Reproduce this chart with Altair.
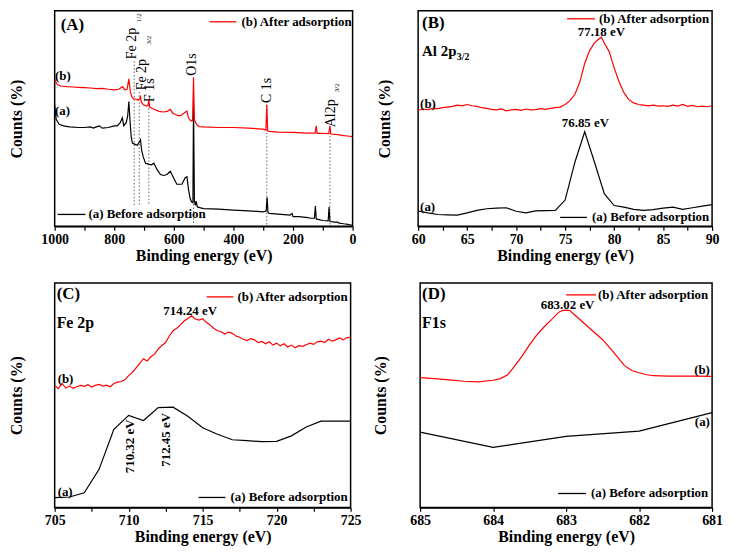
import altair as alt
import pandas as pd

FONT = "Liberation Serif"
RED = "#ff0000"
BLACK = "#000000"

# ---------------- Panel A : survey spectra ----------------
A_ev_a = [1000, 995, 985, 970, 950, 920, 900, 880, 870, 860, 850, 840, 820, 800, 790, 780, 773, 768,
          760, 755, 751, 747, 743, 739, 730, 723, 716, 712, 708, 703, 695, 685, 675, 667, 656, 645,
          634, 623, 612, 601, 590, 573, 562, 556, 551, 545, 540, 536, 534, 531, 528, 525, 521, 510,
          500, 450, 400, 350, 300, 290, 287, 284, 280, 250, 210, 203, 200, 180, 150, 140, 128, 125,
          122, 100, 82, 79, 76, 60, 50, 45, 30, 20, 10, 0]
A_cnt_a = [400, 355, 340, 335, 332, 330, 330, 332, 328, 332, 335, 328, 330, 335, 335, 345, 360, 335,
           345, 365, 410, 350, 300, 282, 278, 275, 285, 292, 260, 240, 220, 217, 215, 220, 200, 185,
           182, 185, 195, 175, 155, 155, 175, 178, 140, 110, 100, 98, 410, 105, 90, 102, 85, 82,
           80, 78, 75, 73, 70, 72, 115, 68, 65, 63, 60, 65, 55, 55, 52, 50, 50, 88,
           48, 43, 42, 85, 40, 38, 38, 35, 33, 32, 30, 28]
A_ev_b = [1000, 995, 990, 980, 960, 940, 920, 900, 880, 860, 840, 820, 800, 785, 772, 765, 757, 751,
          746, 741, 735, 728, 720, 715, 712, 709, 702, 692, 687, 684, 681, 670, 650, 635, 622, 612,
          604, 595, 585, 575, 565, 556, 551, 545, 540, 537, 534, 531, 527, 522, 515, 500, 450, 400,
          350, 300, 291, 288, 285, 280, 250, 200, 150, 126, 122, 119, 100, 80, 76, 73, 50, 30, 10, 0]
A_cnt_b = [480, 468, 462, 458, 456, 455, 454, 453, 452, 450, 451, 448, 446, 448, 456, 446, 448, 480,
           440, 425, 418, 418, 414, 418, 425, 408, 400, 396, 398, 415, 393, 388, 380, 378, 380, 386,
           375, 370, 366, 368, 375, 381, 360, 352, 350, 352, 485, 355, 345, 338, 333, 332, 330, 330,
           328, 325, 322, 400, 320, 318, 316, 315, 313, 313, 335, 312, 312, 311, 335, 310, 308, 305, 303, 302]
A_peak_names = ["Fe 2p", "Fe 2p", "F 1s", "O1s", "C 1s", "Al2p"]
A_peak_name_ev = [739, 706, 680, 540, 288, 74]
A_peak_name_cnt = [541, 445, 409, 490, 406, 331]
A_sub_names = ["1/2", "3/2", "3/2"]
A_sub_ev = [716, 683, 52]
A_sub_cnt = [655, 586, 439]
A_guide_ev = [733, 716, 684, 534, 288, 76]
A_guide_top = [535, 440, 400, 480, 400, 325]
A_guide_bottom = [90, 90, 90, 25, 25, 25]

# ---------------- Panel B : Al 2p ----------------
B_ev_a = [60, 61, 62, 63, 64, 65, 66, 67, 68, 69, 70, 71, 72, 73, 74, 75, 76, 77, 78, 79, 80,
          81, 82, 83, 84, 85, 86, 87, 88, 89, 90]
B_cnt_a = [68, 62, 57, 56, 55, 62, 70, 75, 77, 78, 67, 62, 68, 69, 70, 102, 220, 315, 220, 122, 85,
           80, 73, 70, 72, 77, 80, 73, 78, 83, 88]
B_ev_b = [60, 60.5, 61, 61.5, 62, 62.5, 63, 63.5, 64, 64.5, 65, 65.5, 66, 66.5, 67, 67.5, 68, 68.5,
          69, 69.5, 70, 70.5, 71, 71.5, 72, 72.5, 73, 73.5, 74, 74.5, 75, 75.5, 76, 76.5, 77, 77.5,
          78, 78.5, 78.7, 79, 79.5, 80, 80.5, 81, 81.5, 82, 82.5, 83, 83.5, 84, 84.5, 85, 85.5, 86,
          86.5, 87, 87.5, 88, 88.5, 89, 89.5, 90]
B_cnt_b = [382, 386, 384, 388, 387, 390, 392, 394, 398, 396, 400, 396, 394, 390, 388, 385, 383, 386,
           380, 383, 385, 382, 386, 383, 384, 387, 385, 388, 390, 392, 400, 412, 432, 470, 528, 568,
           592, 606, 610, 592, 565, 515, 472, 437, 415, 405, 400, 398, 396, 398, 395, 396, 394, 398,
           395, 400, 394, 397, 393, 395, 393, 396]

# ---------------- Panel C : Fe 2p ----------------
C_ev_a = [705, 706, 707, 708, 709, 710, 711, 712, 713, 714, 715, 716, 717, 718, 719, 720, 721, 722,
          723, 724, 725]
C_cnt_a = [35, 37, 50, 122, 245, 288, 272, 312, 313, 285, 250, 230, 213, 210, 207, 208, 225, 252,
           270, 270, 270]
C_ev_b = [705.0, 705.25, 705.5, 705.75, 706.0, 706.25, 706.5, 706.75, 707.0, 707.25, 707.5, 707.75,
          708.0, 708.25, 708.5, 708.75, 709.0, 709.25, 709.5, 709.75, 710.0, 710.25, 710.5, 710.75,
          711.0, 711.25, 711.5, 711.75, 712.0, 712.25, 712.5, 712.75, 713.0, 713.25, 713.5, 713.75,
          714.0, 714.25, 714.5, 714.75, 715.0, 715.25, 715.5, 715.75, 716.0, 716.25, 716.5, 716.75,
          717.0, 717.25, 717.5, 717.75, 718.0, 718.25, 718.5, 718.75, 719.0, 719.25, 719.5, 719.75,
          720.0, 720.25, 720.5, 720.75, 721.0, 721.25, 721.5, 721.75, 722.0, 722.25, 722.5, 722.75,
          723.0, 723.25, 723.5, 723.75, 724.0, 724.25, 724.5, 724.75, 725.0]
C_cnt_b = [380, 370, 386, 372, 378, 371, 376, 380, 377, 382, 375, 380,
           383, 378, 381, 376, 386, 390, 392, 398, 410, 420, 434, 448,
           462, 455, 468, 476, 492, 503, 512, 532, 548, 556, 566, 578,
           586, 594, 584, 581, 585, 574, 566, 556, 548, 545, 538, 544,
           540, 532, 528, 522, 518, 524, 520, 512, 515, 508, 514, 504,
           510, 502, 508, 498, 504, 496, 502, 500, 505, 510, 506, 514,
           516, 512, 522, 516, 520, 526, 520, 527, 528]

# ---------------- Panel D : F 1s ----------------
D_ev_a = [685, 684, 683, 682, 681]
D_cnt_a = [235, 188, 222, 238, 295]
D_ev_b = [685, 684.8, 684.6, 684.4, 684.2, 684, 683.9, 683.8, 683.7, 683.6, 683.5, 683.4, 683.3,
          683.2, 683.1, 683.05, 683, 682.95, 682.9, 682.8, 682.7, 682.6, 682.5, 682.4, 682.3, 682.2,
          682.1, 682, 681.9, 681.8, 681.6, 681.4, 681.2, 681]
D_cnt_b = [403, 400, 396, 392, 390, 395, 400, 412, 440, 470, 505, 535, 560,
           582, 605, 610, 611, 610, 600, 580, 560, 540, 520, 495, 468, 440,
           425, 418, 412, 409, 408, 408, 408, 407]

LEG_B = "(b) After adsorption"
LEG_A = "(a) Before adsorption"


def x_enc(domain, values, major, fmt="d"):
    expr = f"abs(datum.value/{major} - round(datum.value/{major})) < 0.001 ? datum.label : ''"
    return alt.X("ev:Q",
                 scale=alt.Scale(domain=domain, nice=False, zero=False),
                 axis=alt.Axis(title="Binding energy (eV)", values=values, labelExpr=expr,
                               format=fmt, grid=False, labelFlush=False, labelOverlap=False,
                               labelPadding=2, titlePadding=1))


def y_enc(domain, tpad):
    return alt.Y("counts:Q",
                 scale=alt.Scale(domain=domain, nice=False, zero=False),
                 axis=alt.Axis(title="Counts (%)", labels=False, ticks=False, domain=False,
                               grid=False, titlePadding=tpad))


def series(ev, cnt, color, xe, ye):
    df = pd.DataFrame({"ev": ev, "counts": cnt})
    return alt.Chart(df).mark_line(color=color, strokeWidth=1.2, clip=True).encode(x=xe, y=ye)


def texts(ev, cnt, labels, xe, ye, **kw):
    df = pd.DataFrame({"ev": ev, "counts": cnt, "label": labels})
    return alt.Chart(df).mark_text(font=FONT, color=BLACK, **kw).encode(x=xe, y=ye, text="label:N")


ONE = pd.DataFrame({"k": [0]})


def fixed_text(txt, x, y, size, align="left", weight="bold"):
    return alt.Chart(ONE).mark_text(font=FONT, fontSize=size, fontWeight=weight, align=align,
                                    baseline="middle", color=BLACK).encode(
        x=alt.value(x), y=alt.value(y), text=alt.value(txt))


def leg_line(x1, x2, y, color):
    return alt.Chart(ONE).mark_rule(color=color, strokeWidth=1.3).encode(
        x=alt.value(x1), x2=alt.value(x2), y=alt.value(y))


# ---------------- build panels ----------------
H1 = 217
WA = 300
xa = x_enc([1000, 0], list(range(0, 1001, 100)), 200)
ya = y_enc([25, 690], 30)
guides = alt.Chart(pd.DataFrame({"ev": A_guide_ev, "counts": A_guide_top, "c2": A_guide_bottom})) \
    .mark_rule(color="#666666", strokeWidth=1, strokeDash=[1.5, 2]).encode(x=xa, y=ya, y2="c2:Q")
panelA = alt.layer(
    guides,
    series(A_ev_a, A_cnt_a, BLACK, xa, ya),
    series(A_ev_b, A_cnt_b, RED, xa, ya),
    texts(A_peak_name_ev, A_peak_name_cnt, A_peak_names, xa, ya, angle=270, align="left",
          baseline="middle", fontSize=14),
    texts(A_sub_ev, A_sub_cnt, A_sub_names, xa, ya, angle=270, align="left",
          baseline="middle", fontSize=7),
    texts([999, 999], [490, 382], ["(b)", "(a)"], xa, ya, align="left", baseline="middle",
          fontSize=13, fontWeight="bold"),
    fixed_text("(A)", 6, 14, 17),
    leg_line(WA - 144, WA - 117, 11, RED),
    fixed_text(LEG_B, WA - 1, 11, 13, align="right"),
    leg_line(3, 31, H1 - 12, BLACK),
    fixed_text(LEG_A, 34, H1 - 12, 13),
).properties(width=WA, height=H1)

WB = 296
xb = x_enc([60, 90], [60 + 2.5 * i for i in range(13)], 5)
yb = y_enc([20, 692], 26)
panelB = alt.layer(
    series(B_ev_a, B_cnt_a, BLACK, xb, yb),
    series(B_ev_b, B_cnt_b, RED, xb, yb),
    texts([78.7, 77.07], [614, 330], ["77.18 eV", "76.85 eV"], xb, yb, align="center",
          baseline="alphabetic", fontSize=13, fontWeight="bold"),
    texts([60.2, 60.2], [402, 80], ["(b)", "(a)"], xb, yb, align="left", baseline="middle",
          fontSize=13, fontWeight="bold"),
    fixed_text("(B)", 4, 12, 17),
    fixed_text("Al 2p", 4, 40, 15),
    fixed_text("3/2", 39, 46, 10),
    leg_line(WB - 146, WB - 118, 8, RED),
    fixed_text(LEG_B, WB - 3, 8, 13, align="right"),
    leg_line(WB - 153, WB - 126, H1 - 9, BLACK),
    fixed_text(LEG_A, WB - 3, H1 - 9, 13, align="right"),
).properties(width=WB, height=H1)

H3 = 226
WC = 298
xc = x_enc([705, 725], [705 + 2.5 * i for i in range(9)], 5)
yc = y_enc([5, 695], 30)
panelC = alt.layer(
    series(C_ev_a, C_cnt_a, BLACK, xc, yc),
    series(C_ev_b, C_cnt_b, RED, xc, yc),
    texts([714.16], [597], ["714.24 eV"], xc, yc, align="center", baseline="alphabetic",
          fontSize=13, fontWeight="bold"),
    texts([710.1, 712.5], [110, 130], ["710.32 eV", "712.45 eV"], xc, yc, angle=270,
          align="left", baseline="middle", fontSize=13, fontWeight="bold"),
    texts([705.2, 705.2], [400, 52], ["(b)", "(a)"], xc, yc, align="left", baseline="middle",
          fontSize=13, fontWeight="bold"),
    fixed_text("(C)", 2, 11, 17),
    fixed_text("Fe 2p", 2, 40, 16),
    leg_line(WC - 145, WC - 118, 14, RED),
    fixed_text(LEG_B, WC - 3, 14, 13, align="right"),
    leg_line(WC - 153, WC - 126, H3 - 10, BLACK),
    fixed_text(LEG_A, WC - 3, H3 - 10, 13, align="right"),
).properties(width=WC, height=H3)

WD = 294
xd = x_enc([685, 681], [681 + 0.5 * i for i in range(9)], 1)
yd = y_enc([3, 695], 32)
panelD = alt.layer(
    series(D_ev_a, D_cnt_a, BLACK, xd, yd),
    series(D_ev_b, D_cnt_b, RED, xd, yd),
    texts([682.98], [614], ["683.02 eV"], xd, yd, align="center", baseline="alphabetic",
          fontSize=13, fontWeight="bold"),
    texts([681.03, 681.03], [428, 265], ["(b)", "(a)"], xd, yd, align="right",
          baseline="middle", fontSize=13, fontWeight="bold"),
    fixed_text("(D)", 2, 11, 17),
    fixed_text("F1s", 2, 40, 16),
    leg_line(WD - 147, WD - 117, 12, RED),
    fixed_text(LEG_B, WD - 4, 12, 13, align="right"),
    leg_line(WD - 155, WD - 127, H3 - 14, BLACK),
    fixed_text(LEG_A, WD - 4, H3 - 14, 13, align="right"),
).properties(width=WD, height=H3)

row1 = alt.hconcat(panelA, panelB, spacing=18)
row2 = alt.hconcat(panelC, panelD, spacing=9)
chart = alt.vconcat(row1, row2, spacing=18).properties(
    padding={"left": 0, "top": 0, "right": 0, "bottom": 0}
).configure(
    font=FONT,
).configure_view(
    stroke=BLACK, strokeWidth=1.5
).configure_axis(
    labelFont=FONT, titleFont=FONT, labelFontSize=14, titleFontSize=16,
    labelFontWeight="bold", titleFontWeight="bold", labelColor=BLACK, titleColor=BLACK,
    domainColor=BLACK, tickColor=BLACK, tickSize=4, domainWidth=1.5, tickWidth=1.2,
)

chart.save("out.html", embed_options={"renderer": "svg", "actions": False})
